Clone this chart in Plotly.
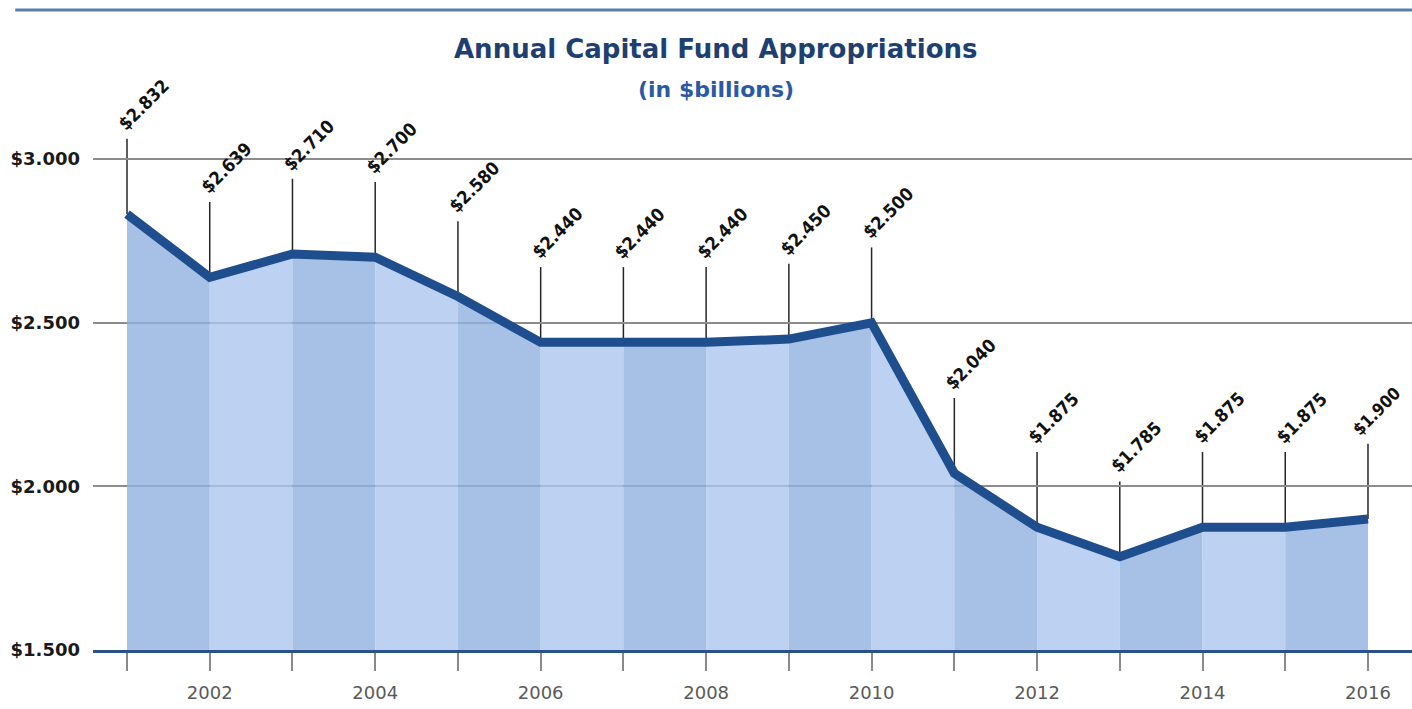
import plotly.graph_objects as go

# ---- data ----
years = [2001, 2002, 2003, 2004, 2005, 2006, 2007, 2008, 2009, 2010,
         2011, 2012, 2013, 2014, 2015, 2016]
values = [2.832, 2.639, 2.710, 2.700, 2.580, 2.440, 2.440, 2.440, 2.450, 2.500,
          2.040, 1.875, 1.785, 1.875, 1.875, 1.900]
value_labels = ["$2.832", "$2.639", "$2.710", "$2.700", "$2.580", "$2.440", "$2.440",
                "$2.440", "$2.450", "$2.500", "$2.040", "$1.875", "$1.785", "$1.875",
                "$1.875", "$1.900"]
y_tick_vals = [1.5, 2.0, 2.5, 3.0]
y_tick_text = ["$1.500", "$2.000", "$2.500", "$3.000"]
x_tick_text = [str(y) if y % 2 == 0 else "" for y in years]

title_text = "Annual Capital Fund Appropriations"
subtitle_text = "(in $billions)"

# ---- styling ----
LINE_COLOR = "#1f4e8e"
STRIPE_DARK = "rgba(144,176,224,0.8)"
STRIPE_LIGHT = "rgba(172,199,239,0.8)"
LEADER = 0.23  # leader line length in axis units

fig = go.Figure()

# alternating striped area under the line
for i in range(len(years) - 1):
    fig.add_trace(go.Scatter(
        x=[years[i], years[i + 1]], y=[values[i], values[i + 1]],
        mode="none", fill="tozeroy",
        fillcolor=STRIPE_DARK if i % 2 == 0 else STRIPE_LIGHT,
        hoverinfo="skip", showlegend=False))

# main line
fig.add_trace(go.Scatter(
    x=years, y=values, mode="lines",
    line=dict(color=LINE_COLOR, width=9),
    showlegend=False))

# leader lines and rotated value labels
n = len(years)
for i, (yr, v, lab) in enumerate(zip(years, values, value_labels)):
    fig.add_shape(type="line", xref="x", yref="y",
                  x0=yr, x1=yr, y0=v, y1=v + LEADER,
                  line=dict(color="#262626", width=1.5), layer="below")
    last = (i == n - 1)
    fig.add_annotation(x=yr, y=v + LEADER, xref="x", yref="y",
                       text="<b>" + lab + "</b>", showarrow=False, textangle=-45,
                       xanchor="left", yanchor="bottom",
                       xshift=-22 if last else -16, yshift=2,
                       font=dict(family="DejaVu Sans Condensed, DejaVu Sans",
                                 size=17 if last else 18, color="#111111"))

# titles
fig.add_annotation(x=0.472, y=0.954, xref="paper", yref="paper",
                   text="<b>" + title_text + "</b>", showarrow=False,
                   xanchor="center", yanchor="middle",
                   font=dict(family="DejaVu Sans", size=26, color="#1d3f72"))
fig.add_annotation(x=0.472, y=0.890, xref="paper", yref="paper",
                   text="<b>" + subtitle_text + "</b>", showarrow=False,
                   xanchor="center", yanchor="middle",
                   font=dict(family="DejaVu Sans", size=22, color="#2a5aa6"))

# decorative top rule
fig.add_shape(type="line", xref="paper", yref="paper",
              x0=-0.059, x1=1.0, y0=1.0159, y1=1.0159,
              line=dict(color="#5b7fae", width=3))

fig.update_layout(
    width=1412, height=709,
    margin=dict(l=93, r=0, t=20, b=59),
    paper_bgcolor="white", plot_bgcolor="white",
    showlegend=False,
    xaxis=dict(range=[2000.589, 2016.532], tickvals=years, ticktext=x_tick_text,
               ticks="outside", ticklen=18, tickwidth=1.5, tickcolor="#8a8a8a",
               showgrid=False, zeroline=False,
               showline=True, linecolor="#2b5189", linewidth=3,
               tickfont=dict(family="DejaVu Sans", size=18, color="#5a5a5a"),
               ticklabelstandoff=6),
    yaxis=dict(range=[1.5, 3.425], tickvals=y_tick_vals, ticktext=y_tick_text,
               showgrid=True, gridcolor="#8c8c8c", gridwidth=1.5,
               zeroline=False, showline=False, ticks="",
               tickfont=dict(family="DejaVu Sans", size=18, color="#1a1a1a",
                             weight="bold"),
               ticklabelstandoff=12),
)

fig.write_html("out.html")
